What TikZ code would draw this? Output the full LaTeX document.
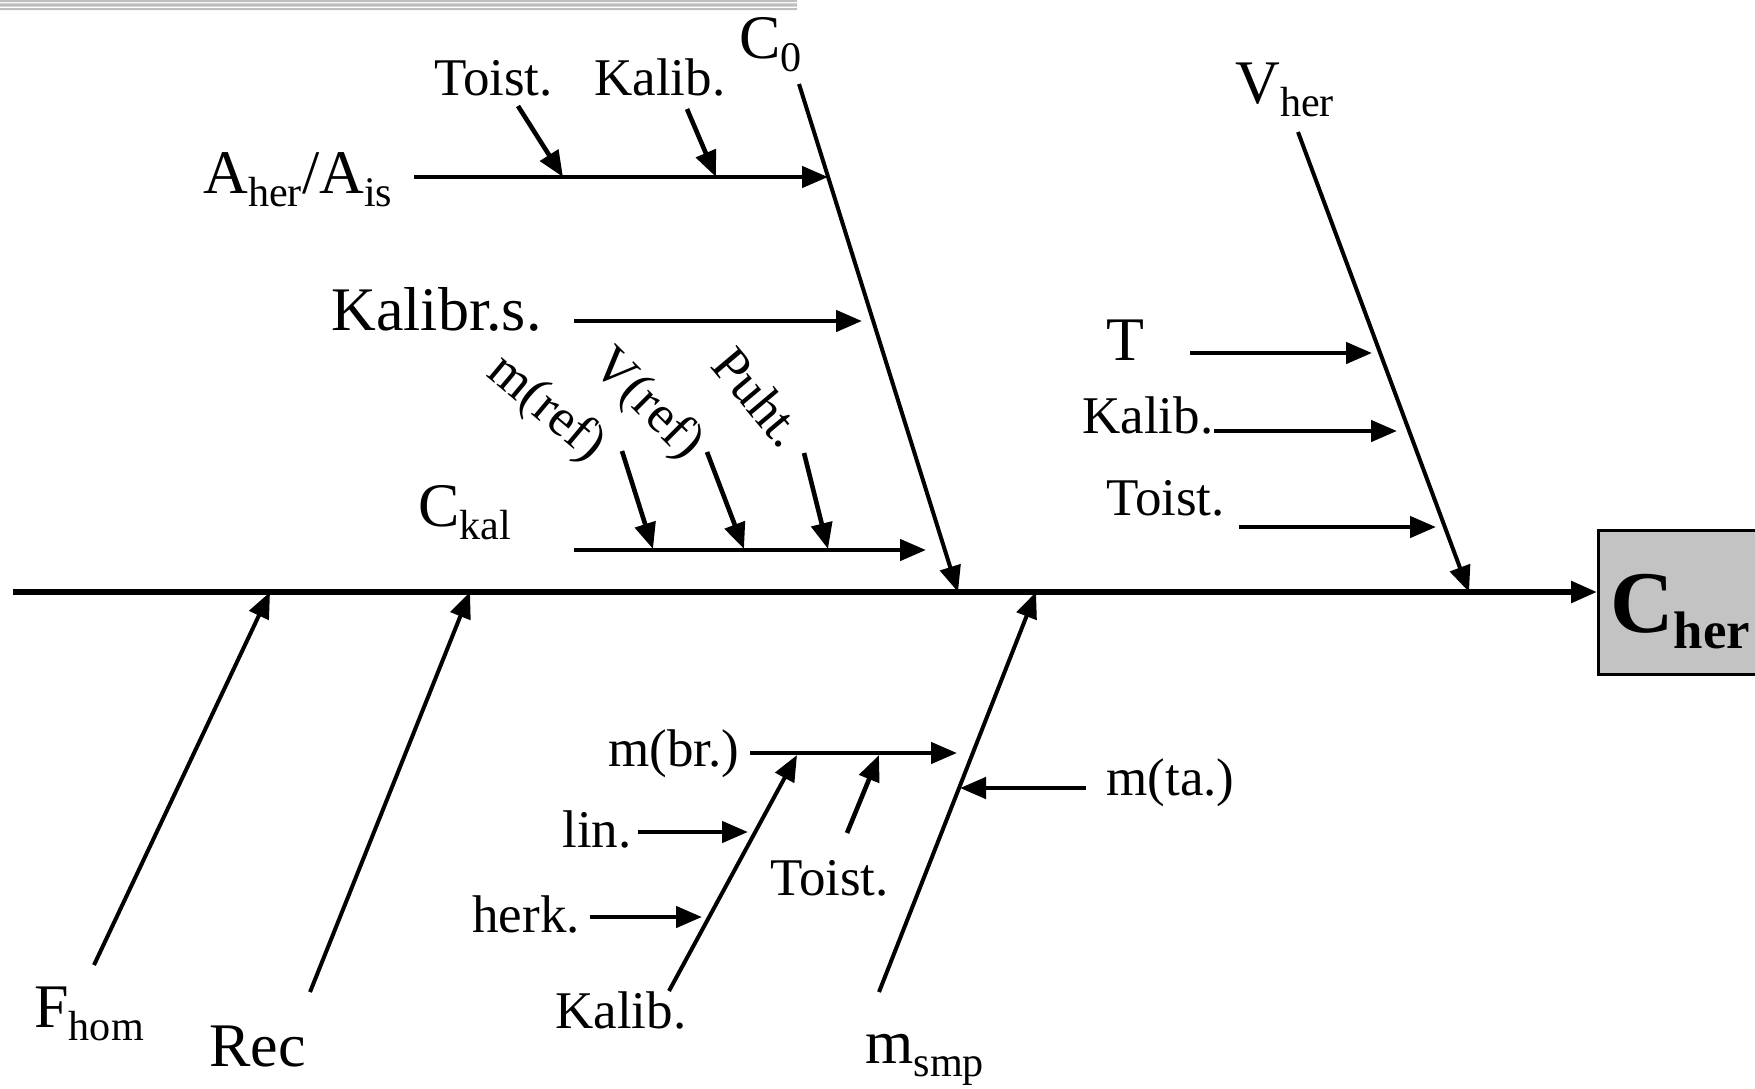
\documentclass[tikz,border=0pt]{standalone}
\usepackage{fontspec}
\setmainfont{Liberation Serif}
\usetikzlibrary{arrows.meta}
\newcommand\sbx[1]{\raisebox{-0.22em}{\scalebox{0.68}{#1}}}
\newcommand\sbb[1]{\raisebox{-0.19em}{\scalebox{0.6}{#1}}}
\definecolor{boxgray}{HTML}{C3C3C3}
\definecolor{rulegray}{HTML}{BEBEBE}
\begin{document}
\begin{tikzpicture}[x=0.5pt,y=-0.5pt,
  small/.style={font=\fontsize{26.5}{28}\selectfont, inner sep=0pt, anchor=base west},
  big/.style={font=\fontsize{31}{33}\selectfont, inner sep=0pt, anchor=base west},
  tip/.style={-{Triangle[length=13pt,width=10.5pt]}},
  arr/.style={tip, line width=2.3pt},
  bone/.style={tip, line width=2pt},
  spine/.style={tip, line width=2.8pt}]
\useasboundingbox (0,0) rectangle (1755,1088);
\clip (0,0) rectangle (1755,1088);
% header rule
\fill[rulegray] (0,0) rectangle (797,2) (0,3.3) rectangle (797,6.7) (0,8) rectangle (797,10);
% result box
\node[draw=black, line width=1.3pt, fill=boxgray, anchor=north west,
      minimum width=90pt, minimum height=72pt, inner sep=0pt] (box) at (1597,529) {};
\node[font=\fontsize{44}{46}\selectfont\bfseries, inner sep=0pt, anchor=base west] (cher) at (1610,632) {C\sbb{her}};
% coordinates
\coordinate (sp0) at (13,592);
\coordinate (c0t) at (799,84);   \coordinate (c0b) at (958,592);
\coordinate (aS) at (414,177);   \coordinate (aE) at (828,177);
\coordinate (t1S) at (518,106);  \coordinate (t1E) at (563,177);
\coordinate (k1S) at (687,109);  \coordinate (k1E) at (716,177);
\coordinate (ksS) at (574,321);  \coordinate (ksE) at (862,321);
\coordinate (ckS) at (574,550);  \coordinate (ckE) at (926,550);
\coordinate (mrS) at (622,451);  \coordinate (mrE) at (653,549);
\coordinate (vrS) at (707,452);  \coordinate (vrE) at (744,549);
\coordinate (puS) at (804,453);  \coordinate (puE) at (828,549);
\coordinate (vht) at (1298,132); \coordinate (vhb) at (1469,592);
\coordinate (tS) at (1190,353);  \coordinate (tE) at (1372,353);
\coordinate (k2S) at (1214,431); \coordinate (k2E) at (1397,431);
\coordinate (t2S) at (1239,527); \coordinate (t2E) at (1436,527);
\coordinate (fhS) at (94,965);   \coordinate (fhE) at (270,592);
\coordinate (reS) at (310,992);  \coordinate (reE) at (470,592);
\coordinate (msS) at (879,992);  \coordinate (msE) at (1036,592);
\coordinate (mbS) at (750,753);  \coordinate (mbE) at (957,753);
\coordinate (mtS) at (1086,788); \coordinate (mtE) at (960,788);
\coordinate (k3S) at (669,991);  \coordinate (k3E) at (797,755);
\coordinate (liS) at (638,832);  \coordinate (liE) at (748,832);
\coordinate (heS) at (590,917);  \coordinate (heE) at (702,917);
\coordinate (t3S) at (847,833);  \coordinate (t3E) at (879,755);
% spine
\draw[spine] (sp0) -- (box.west |- sp0);
% upper bones
\draw[bone] (c0t) -- (c0b);
\draw[arr] (aS) -- (aE);
\draw[arr] (t1S) -- (t1E);
\draw[arr] (k1S) -- (k1E);
\draw[arr] (ksS) -- (ksE);
\draw[arr] (ckS) -- (ckE);
\draw[arr] (mrS) -- (mrE);
\draw[arr] (vrS) -- (vrE);
\draw[arr] (puS) -- (puE);
\draw[bone] (vht) -- (vhb);
\draw[arr] (tS) -- (tE);
\draw[arr] (k2S) -- (k2E);
\draw[arr] (t2S) -- (t2E);
% lower bones
\draw[bone] (fhS) -- (fhE);
\draw[bone] (reS) -- (reE);
\draw[bone] (msS) -- (msE);
\draw[arr] (mbS) -- (mbE);
\draw[arr] (mtS) -- (mtE);
\draw[bone] (k3S) -- (k3E);
\draw[arr] (liS) -- (liE);
\draw[arr] (heS) -- (heE);
\draw[arr] (t3S) -- (t3E);
% labels
\node[big] (lc0) at (739,58) {C\sbx{0}};
\node[small] (lt1) at (434,95) {Toist.};
\node[small] (lk1) at (594,95) {Kalib.};
\node[big] (la) at (203,193) {A\sbx{her}/A\sbx{is}};
\node[big] (lks) at (331,330) {Kalibr.s.};
\node[big] (lck) at (418,526) {C\sbx{kal}};
\node[small, anchor=center, rotate=-40] (lmr) at (546,409) {m(ref)};
\node[small, anchor=center, rotate=-45] (lvr) at (647,405) {V(ref)};
\node[small, anchor=center, rotate=-50] (lpu) at (759,397) {Puht.};
\node[big] (lvh) at (1235,103) {V\sbx{her}};
\node[big] (lt) at (1106,360) {T};
\node[small] (lk2) at (1082,433) {Kalib.};
\node[small] (lt2) at (1106,515) {Toist.};
\node[big] (lfh) at (34,1027) {F\sbx{hom}};
\node[big] (lre) at (209,1066) {Rec};
\node[small] (lmb) at (608,766) {m(br.)};
\node[small] (lli) at (562,847) {lin.};
\node[small] (lhe) at (472,932) {herk.};
\node[small] (lk3) at (555,1028) {Kalib.};
\node[small] (lt3) at (770,895) {Toist.};
\node[big] (lms) at (865,1063) {m\sbx{smp}};
\node[small] (lmt) at (1106,795) {m(ta.)};
\end{tikzpicture}
\end{document}
